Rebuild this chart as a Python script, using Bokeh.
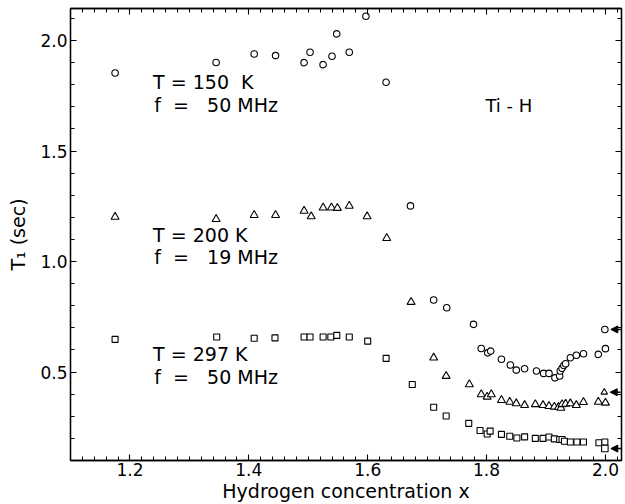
import numpy as np
from bokeh.plotting import figure
from bokeh.models import (Range1d, FixedTicker, LinearAxis, Arrow, NormalHead,
                          ColumnDataSource)
from bokeh.embed import file_html
from bokeh.resources import INLINE
from bokeh.core.properties import value

# ---- data ----
x_150 = [1.175, 1.345, 1.409, 1.445, 1.493, 1.503, 1.525, 1.540, 1.548, 1.569,
         1.597, 1.631, 1.672, 1.711, 1.733, 1.778, 1.791, 1.802, 1.807, 1.825,
         1.840, 1.850, 1.864, 1.884, 1.896, 1.905, 1.915, 1.923, 1.924, 1.927,
         1.930, 1.933, 1.941, 1.951, 1.963, 1.988, 2.000]
t1_150 = [1.853, 1.901, 1.939, 1.932, 1.900, 1.947, 1.891, 1.929, 2.030, 1.947,
          2.110, 1.811, 1.252, 0.826, 0.791, 0.716, 0.607, 0.587, 0.595, 0.558,
          0.532, 0.509, 0.515, 0.505, 0.494, 0.494, 0.474, 0.482, 0.505, 0.517,
          0.530, 0.538, 0.565, 0.576, 0.583, 0.580, 0.606]

x_200 = [1.175, 1.345, 1.409, 1.445, 1.493, 1.505, 1.525, 1.539, 1.549, 1.569,
         1.599, 1.632, 1.673, 1.711, 1.732, 1.771, 1.791, 1.801, 1.808, 1.825,
         1.839, 1.850, 1.864, 1.882, 1.895, 1.905, 1.914, 1.921, 1.925, 1.927,
         1.933, 1.941, 1.951, 1.963, 1.988, 2.000]
t1_200 = [1.202, 1.192, 1.210, 1.210, 1.229, 1.204, 1.244, 1.244, 1.242, 1.252,
          1.204, 1.106, 0.817, 0.565, 0.482, 0.444, 0.399, 0.388, 0.399, 0.373,
          0.365, 0.358, 0.350, 0.354, 0.350, 0.346, 0.343, 0.341, 0.338, 0.354,
          0.356, 0.358, 0.350, 0.364, 0.365, 0.361]

x_297 = [1.175, 1.346, 1.409, 1.444, 1.493, 1.503, 1.525, 1.538, 1.548, 1.569,
         1.600, 1.631, 1.675, 1.711, 1.732, 1.770, 1.789, 1.801, 1.806, 1.825,
         1.839, 1.851, 1.864, 1.882, 1.895, 1.905, 1.914, 1.923, 1.927, 1.931,
         1.941, 1.952, 1.963, 1.989, 1.999]
t1_297 = [0.648, 0.659, 0.653, 0.655, 0.659, 0.659, 0.659, 0.659, 0.666, 0.659,
          0.640, 0.562, 0.444, 0.341, 0.301, 0.268, 0.236, 0.220, 0.233, 0.218,
          0.210, 0.202, 0.207, 0.200, 0.200, 0.206, 0.198, 0.195, 0.195, 0.187,
          0.184, 0.184, 0.184, 0.180, 0.184]

# points marked with an arrow (x = 2.0)
x_arrow_pts = [1.999, 1.998, 1.999]
t1_arrow_pts = [0.693, 0.409, 0.154]
arrow_markers = ["circle", "triangle", "square"]

x_tick_vals = [1.2, 1.4, 1.6, 1.8, 2.0]
x_tick_labels = ["1.2", "1.4", "1.6", "1.8", "2.0"]
y_tick_vals = [0.5, 1.0, 1.5, 2.0]
y_tick_labels = ["0.5", "1.0", "1.5", "2.0"]

NB = "\u00a0"
label_text = ["T" + NB + "=" + NB + "150" + NB * 2 + "K",
              "f" + NB * 2 + "=" + NB * 3 + "50" + NB + "MHz",
              "T" + NB + "=" + NB + "200" + NB + "K",
              "f" + NB * 2 + "=" + NB * 3 + "19" + NB + "MHz",
              "T" + NB + "=" + NB + "297" + NB + "K",
              "f" + NB * 2 + "=" + NB * 3 + "50" + NB + "MHz"]
label_x = [1.239, 1.241, 1.239, 1.241, 1.239, 1.241]
label_y = [1.814, 1.708, 1.121, 1.022, 0.582, 0.480]

x_title = "Hydrogen concentration x"
y_title = "T\u2081 (sec)"

FONT = "DejaVu Sans"

p = figure(width=625, height=504, output_backend="svg", toolbar_location=None,
           x_range=Range1d(1.1, 2.027), y_range=Range1d(0.1, 2.145),
           min_border_left=70, min_border_right=4, min_border_top=8,
           min_border_bottom=44)
p.background_fill_color = "white"
p.border_fill_color = "white"
p.outline_line_color = "black"
p.outline_line_width = 1.3
p.grid.visible = False

x_minor = [round(v, 2) for v in np.arange(1.10, 2.03, 0.02)]
y_minor = [round(v, 1) for v in np.arange(0.1, 2.15, 0.1)]
xt = FixedTicker(ticks=x_tick_vals, minor_ticks=x_minor)
yt = FixedTicker(ticks=y_tick_vals, minor_ticks=y_minor)


def style(ax, labels=True):
    ax.axis_line_color = "black"
    ax.axis_line_width = 1.3
    ax.major_tick_in = 6
    ax.major_tick_out = 0
    ax.minor_tick_in = 4
    ax.minor_tick_out = 0
    ax.major_tick_line_color = "black"
    ax.minor_tick_line_color = "black"
    ax.major_tick_line_width = 1.1
    ax.minor_tick_line_width = 1.0
    if labels:
        ax.major_label_text_font = FONT
        ax.major_label_text_font_size = "17px"
        ax.major_label_text_color = "black"
        ax.major_label_standoff = 2
        ax.axis_label_text_font = FONT
        ax.axis_label_text_font_style = "normal"
        ax.axis_label_text_color = "black"
    else:
        ax.major_label_text_color = None
        ax.major_label_text_font_size = "1px"
        ax.major_label_standoff = 0


xa = p.xaxis[0]
xa.ticker = xt
xa.major_label_overrides = dict(zip(x_tick_vals, x_tick_labels))
style(xa)
xa.axis_label = x_title
xa.axis_label_text_font_size = "19px"
xa.axis_label_standoff = 1

ya = p.yaxis[0]
ya.ticker = yt
ya.major_label_overrides = dict(zip(y_tick_vals, y_tick_labels))
style(ya)
ya.major_label_standoff = 3
ya.axis_label = y_title
ya.axis_label_text_font_size = "19px"
ya.axis_label_standoff = 8

top = LinearAxis(ticker=xt)
style(top, labels=False)
p.add_layout(top, "above")
right = LinearAxis(ticker=yt)
style(right, labels=False)
p.add_layout(right, "right")

mk = dict(fill_color="white", line_color="black", line_width=1.1)
p.scatter(x_150, t1_150, marker="circle", size=6.5, **mk)
p.scatter(x_200, t1_200, marker="triangle", size=8, **mk)
p.scatter(x_297, t1_297, marker="square", size=6, **mk)
src_ap = ColumnDataSource(dict(x=x_arrow_pts, y=t1_arrow_pts, m=arrow_markers))
p.scatter("x", "y", marker="m", size=6.5, source=src_ap, **mk)

arr_src = ColumnDataSource(dict(
    xs=[v + 0.027 for v in x_arrow_pts], xe=[v + 0.010 for v in x_arrow_pts],
    ys=t1_arrow_pts, ye=t1_arrow_pts))
p.add_layout(Arrow(end=NormalHead(size=7, fill_color="black", line_color="black"),
                   x_start="xs", x_end="xe", y_start="ys", y_end="ye",
                   line_width=1.6, line_color="black", source=arr_src))

p.text(x=label_x, y=label_y, text=label_text, text_font=value(FONT),
       text_font_size="19px", text_baseline="alphabetic", text_align="left",
       text_color="black")
p.text(x=[1.798], y=[1.706], text=["Ti - H"], text_font=value(FONT),
       text_font_size="18px", text_baseline="alphabetic", text_align="left",
       text_color="black")

open("out.html", "w").write(file_html(p, INLINE))
